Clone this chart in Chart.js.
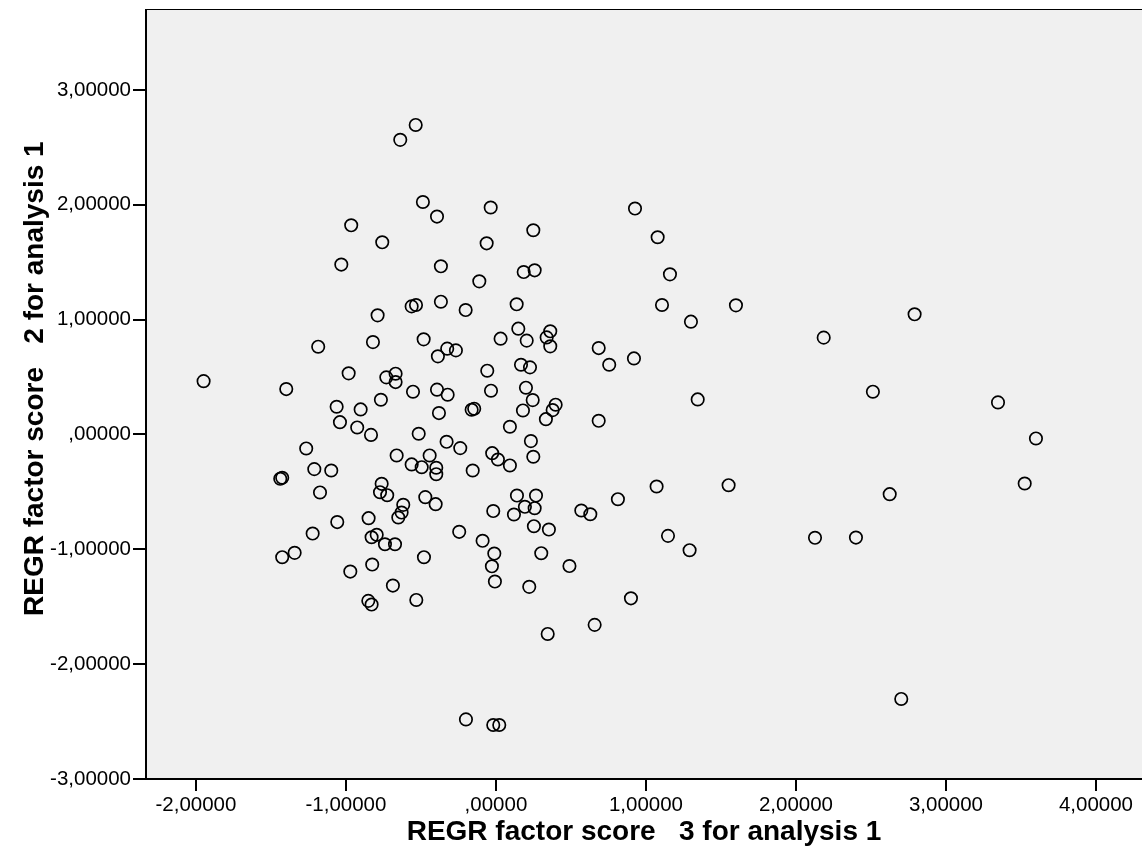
<!DOCTYPE html>
<html>
<head>
<meta charset="utf-8">
<title>Scatter</title>
<script src="https://cdn.jsdelivr.net/npm/chart.js@4/dist/chart.umd.min.js"></script>
<style>
  html, body { margin: 0; padding: 0; background: #ffffff; }
  #wrap { width: 1142px; height: 861px; }
</style>
</head>
<body>
<div id="wrap"><canvas id="scatterChart" width="1142" height="861"></canvas></div>
<script>
// REGR factor score 3 (x) against REGR factor score 2 (y)
const score3 = [
  -1.949, -0.535, -0.638, -0.487, -0.393, -0.035, 0.249, -0.758, -0.062, -0.367,
  -0.111, 0.185, 0.258, -0.965, -1.031, -0.789, -0.562, -0.533, -0.367, -0.202,
  0.138, 0.149, 0.362, 0.338, 0.362, 0.205, 0.031, -0.482, -0.820, -1.185,
  -0.387, -0.325, -0.267, -0.982, -1.398, -0.731, -0.669, -0.669, -0.553, -0.767,
  -0.393, -0.322, -0.380, -0.162, -0.145, -0.058, -0.033, 0.167, 0.227, 0.200,
  0.245, 0.180, 0.398, 0.378, 0.333, 0.093, -1.062, -0.902, -1.040, -0.925,
  -0.833, -0.515, -1.265, -0.329, -0.238, 0.233, 0.249, -0.662, -0.442, -0.562,
  -0.495, -0.398, -0.398, -0.155, -0.025, 0.013, 0.093, -1.211, -1.098, -1.438,
  -1.425, -1.173, -0.762, -0.773, -0.725, -0.471, -0.402, -0.618, -0.629, -0.651,
  -0.849, -0.018, 0.140, 0.267, 0.193, 0.258, 0.120, 0.253, 0.353, -1.058,
  -1.222, -1.342, -1.425, -0.829, -0.795, -0.740, -0.673, -0.825, -0.971, -0.851,
  -0.829, -0.480, -0.687, -0.531, -0.245, -0.089, -0.011, -0.027, -0.007, 0.302,
  0.222, 0.490, 0.345, -0.200, -0.018, 0.022, 0.927, 1.078, 1.160, 1.107,
  1.600, 1.300, 0.685, 0.755, 0.920, 1.345, 0.685, 1.071, 1.551, 0.813,
  0.569, 0.629, 1.147, 1.291, 0.900, 0.658, 2.791, 2.185, 2.513, 3.347,
  3.600, 3.525, 2.625, 2.127, 2.400, 2.702
];
const score2 = [
  0.464, 2.695, 2.565, 2.024, 1.897, 1.976, 1.778, 1.673, 1.664, 1.464,
  1.333, 1.414, 1.429, 1.821, 1.479, 1.037, 1.115, 1.127, 1.156, 1.083,
  1.133, 0.921, 0.898, 0.845, 0.767, 0.817, 0.834, 0.828, 0.804, 0.764,
  0.680, 0.747, 0.732, 0.532, 0.395, 0.497, 0.529, 0.456, 0.372, 0.302,
  0.390, 0.346, 0.186, 0.215, 0.224, 0.555, 0.381, 0.607, 0.584, 0.407,
  0.299, 0.209, 0.259, 0.212, 0.133, 0.067, 0.241, 0.218, 0.107, 0.061,
  -0.004, 0.006, -0.122, -0.064, -0.119, -0.058, -0.194, -0.183, -0.183, -0.261,
  -0.285, -0.290, -0.346, -0.314, -0.163, -0.218, -0.270, -0.302, -0.314, -0.386,
  -0.377, -0.505, -0.430, -0.503, -0.529, -0.546, -0.607, -0.613, -0.680, -0.723,
  -0.729, -0.667, -0.532, -0.532, -0.630, -0.642, -0.697, -0.799, -0.828, -0.763,
  -0.863, -1.031, -1.069, -0.895, -0.874, -0.956, -0.956, -1.133, -1.194, -1.449,
  -1.481, -1.069, -1.316, -1.441, -0.848, -0.926, -1.037, -1.148, -1.281, -1.034,
  -1.327, -1.146, -1.737, -2.481, -2.530, -2.530, 1.967, 1.717, 1.394, 1.127,
  1.124, 0.982, 0.752, 0.607, 0.662, 0.305, 0.119, -0.453, -0.442, -0.564,
  -0.662, -0.695, -0.883, -1.008, -1.427, -1.658, 1.046, 0.843, 0.372, 0.279,
  -0.035, -0.427, -0.520, -0.900, -0.898, -2.303
];

const xTickValues = [-2, -1, 0, 1, 2, 3, 4];
const xTickLabels = ["-2,00000", "-1,00000", ",00000", "1,00000", "2,00000", "3,00000", "4,00000"];
const yTickValues = [-3, -2, -1, 0, 1, 2, 3];
const yTickLabels = ["-3,00000", "-2,00000", "-1,00000", ",00000", "1,00000", "2,00000", "3,00000"];

const xTitle = "REGR factor score   3 for analysis 1";
// leading spaces nudge the centred title up a little, as in the SPSS output
const yTitle = "    REGR factor score   2 for analysis 1";

const points = score3.map((x, i) => ({ x: x, y: score2[i] }));

const FONT = "'Liberation Sans', Arial, sans-serif";

// grey plot area with a thin frame, like the SPSS output
const plotBackground = {
  id: "plotBackground",
  beforeDraw(chart) {
    const a = chart.chartArea;
    const c = chart.ctx;
    c.save();
    c.fillStyle = "#f0f0f0";
    c.fillRect(a.left, a.top, a.right - a.left, a.bottom - a.top);
    c.strokeStyle = "#000000";
    c.lineWidth = 1;
    c.strokeRect(a.left, a.top, a.right - a.left + 2, a.bottom - a.top);
    c.restore();
  }
};

function fixedTicks(values) {
  return scale => {
    scale.ticks = values.map(v => ({ value: v }));
  };
}

function labelFrom(values, labels) {
  return value => {
    const i = values.indexOf(value);
    return i >= 0 ? labels[i] : "";
  };
}

const ctx = document.getElementById("scatterChart").getContext("2d");

new Chart(ctx, {
  type: "scatter",
  data: {
    datasets: [{
      data: points,
      pointStyle: "circle",
      pointRadius: 6.2,
      pointHoverRadius: 6.2,
      pointBorderWidth: 1.7,
      pointBorderColor: "#000000",
      pointBackgroundColor: "rgba(0,0,0,0)"
    }]
  },
  options: {
    responsive: false,
    animation: false,
    devicePixelRatio: 1,
    layout: { autoPadding: false, padding: { top: 9.5, right: 0, left: 0, bottom: 0 } },
    plugins: {
      legend: { display: false },
      tooltip: { enabled: false }
    },
    scales: {
      x: {
        type: "linear",
        min: -2.333,
        max: 4.307,
        afterBuildTicks: fixedTicks(xTickValues),
        afterFit: scale => {
          scale.height = 82;
          scale.paddingLeft = 0;
          scale.paddingRight = 0;
        },
        border: { display: true, color: "#000000", width: 2 },
        grid: {
          drawOnChartArea: false,
          drawTicks: true,
          tickLength: 12,
          color: "#000000",
          lineWidth: 2
        },
        ticks: {
          includeBounds: false,
          autoSkip: false,
          maxRotation: 0,
          padding: 2,
          color: "#000000",
          font: { family: FONT, size: 20.5 },
          callback: labelFrom(xTickValues, xTickLabels)
        },
        title: {
          display: true,
          text: xTitle,
          color: "#000000",
          font: { family: FONT, size: 28, weight: "bold" },
          padding: { top: 0, bottom: 12 }
        }
      },
      y: {
        type: "linear",
        min: -3,
        max: 3.7,
        afterBuildTicks: fixedTicks(yTickValues),
        afterFit: scale => {
          scale.width = 146;
          scale.paddingTop = 0;
          scale.paddingBottom = 0;
        },
        border: { display: true, color: "#000000", width: 2 },
        grid: {
          drawOnChartArea: false,
          drawTicks: true,
          tickLength: 13,
          color: "#000000",
          lineWidth: 2
        },
        ticks: {
          includeBounds: false,
          autoSkip: false,
          padding: 2,
          color: "#000000",
          font: { family: FONT, size: 20.5 },
          callback: labelFrom(yTickValues, yTickLabels)
        },
        title: {
          display: true,
          text: yTitle,
          color: "#000000",
          font: { family: FONT, size: 28, weight: "bold" },
          padding: { top: 18, bottom: 0 }
        }
      }
    }
  },
  plugins: [plotBackground]
});
</script>
</body>
</html>
